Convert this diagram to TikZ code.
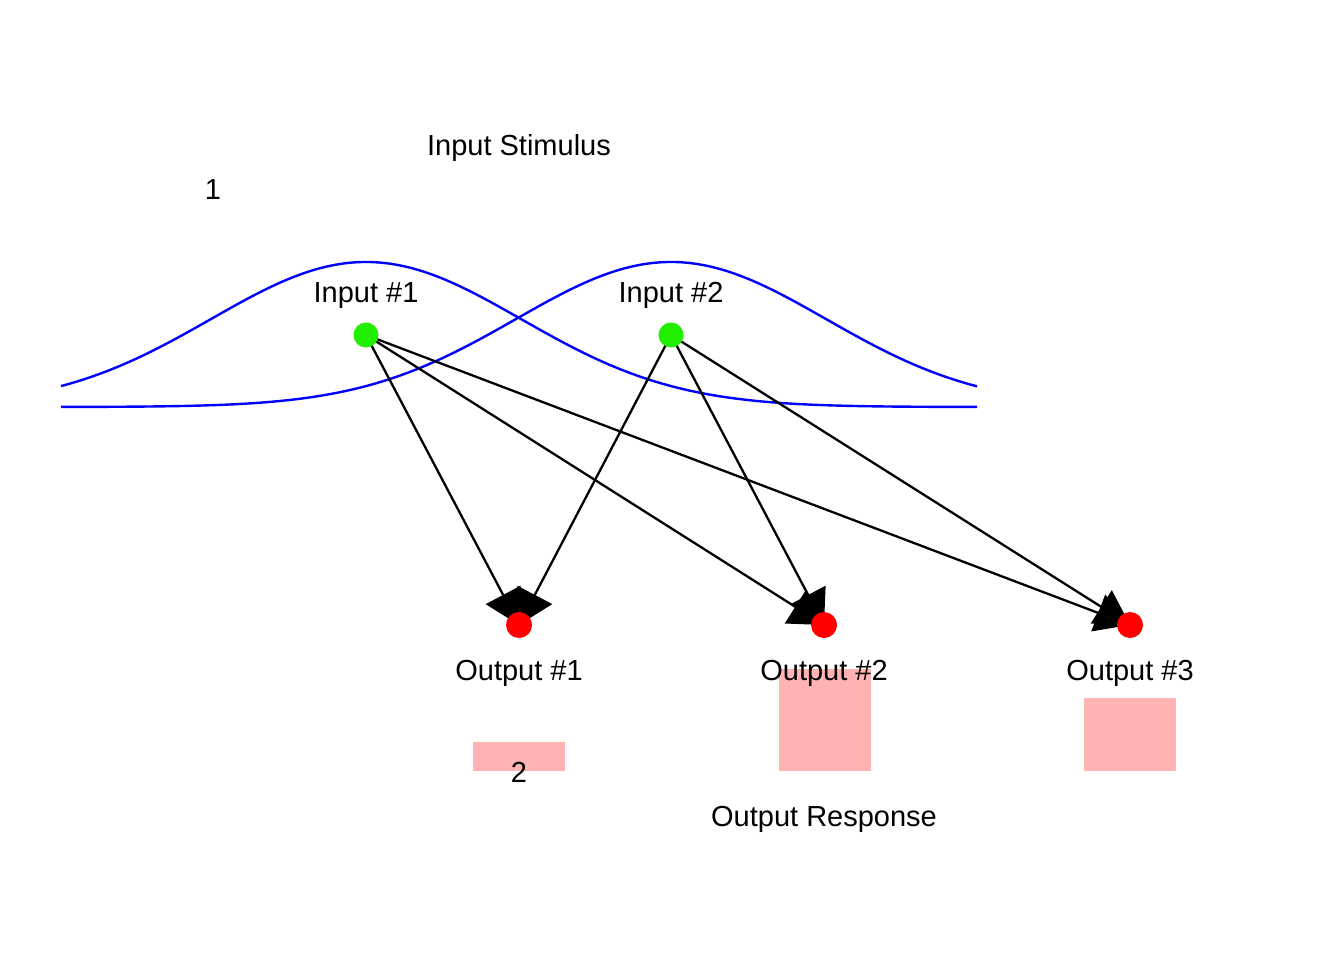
\documentclass[tikz,border=0pt]{standalone}
\usepackage{fontspec}
\setmainfont{Liberation Sans}
\usetikzlibrary{arrows.meta}
\definecolor{dotgreen}{RGB}{34,238,0}
\definecolor{barpink}{RGB}{255,179,179}
\tikzset{
  lbl/.style={anchor=base, inner sep=0pt, font=\fontsize{29}{34}\selectfont},
  curve/.style={blue, line width=2.4pt},
  conn/.style={line width=2.3pt, -{Triangle[length=34pt,width=39pt]}},
  indot/.style={circle, fill=dotgreen, inner sep=0pt, minimum size=25pt},
  outdot/.style={circle, fill=red, inner sep=0pt, minimum size=26pt},
  bar/.style={fill=barpink, draw=none}
}
\begin{document}
\begin{tikzpicture}[x=1pt,y=-1pt]
\useasboundingbox (0,0) rectangle (1344,960);
% curves
\draw[curve] plot[domain=61:977, samples=220] (\x, {407-145*exp(-0.5*((\x-366)/155)^2)});
\draw[curve] plot[domain=61:977, samples=220] (\x, {407-145*exp(-0.5*((\x-671)/155)^2)});
% dot positions
\coordinate (i1) at (366,335);
\coordinate (i2) at (671,335);
\coordinate (o1) at (519,625);
\coordinate (o2) at (824,625);
\coordinate (o3) at (1130,625);
% connectors
\draw[conn] (i1) -- (o1);
\draw[conn] (i1) -- (o2);
\draw[conn] (i1) -- (o3);
\draw[conn] (i2) -- (o1);
\draw[conn] (i2) -- (o2);
\draw[conn] (i2) -- (o3);
% dots
\node[indot] (d1) at (i1) {};
\node[indot] (d2) at (i2) {};
\node[outdot] (e1) at (o1) {};
\node[outdot] (e2) at (o2) {};
\node[outdot] (e3) at (o3) {};
% bars
\fill[bar] (473,742) rectangle (565,771);
\fill[bar] (779,669) rectangle (871,771);
\fill[bar] (1084,698) rectangle (1176,771);
% labels
\node[lbl] (t0) at (519,156) {Input Stimulus};
\node[lbl] (t1) at (213,200) {1};
\node[lbl] (ti1) at (366,302) {Input \#1};
\node[lbl] (ti2) at (671,302) {Input \#2};
\node[lbl] (to1) at (519,680) {Output \#1};
\node[lbl] (to2) at (824,680) {Output \#2};
\node[lbl] (to3) at (1130,680) {Output \#3};
\node[lbl] (t2) at (519,782) {2};
\node[lbl] (tr) at (824,826) {Output Response};
\end{tikzpicture}
\end{document}
